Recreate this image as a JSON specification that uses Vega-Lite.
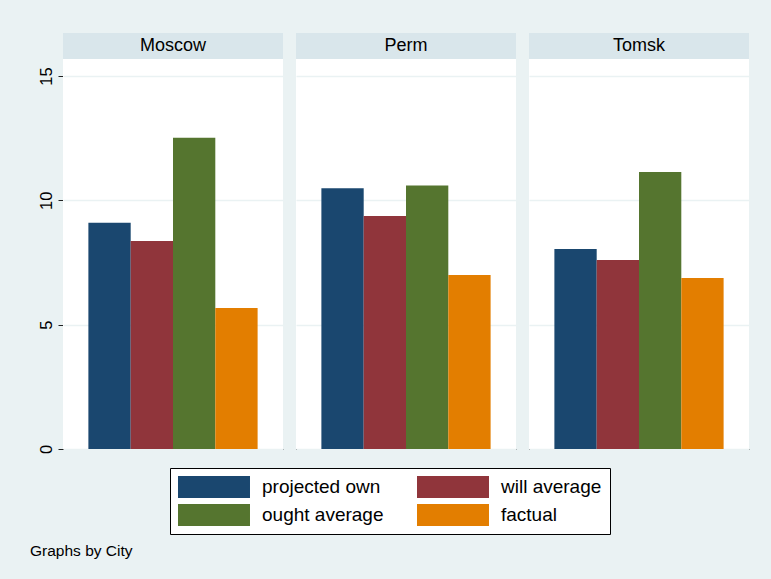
{
  "$schema": "https://vega.github.io/schema/vega-lite/v6.json",
  "background": "#eaf2f3",
  "padding": {"left": 30, "top": 33, "right": 22, "bottom": 21},
  "data": {"values": [
    {"City": "Moscow", "Series": "projected own", "Value": 9.1},
    {"City": "Moscow", "Series": "will average", "Value": 8.36},
    {"City": "Moscow", "Series": "ought average", "Value": 12.52},
    {"City": "Moscow", "Series": "factual", "Value": 5.67},
    {"City": "Perm", "Series": "projected own", "Value": 10.49},
    {"City": "Perm", "Series": "will average", "Value": 9.37},
    {"City": "Perm", "Series": "ought average", "Value": 10.6},
    {"City": "Perm", "Series": "factual", "Value": 7.0},
    {"City": "Tomsk", "Series": "projected own", "Value": 8.04},
    {"City": "Tomsk", "Series": "will average", "Value": 7.6},
    {"City": "Tomsk", "Series": "ought average", "Value": 11.14},
    {"City": "Tomsk", "Series": "factual", "Value": 6.88}
  ]},
  "facet": {
    "column": {
      "field": "City",
      "type": "nominal",
      "sort": ["Moscow", "Perm", "Tomsk"],
      "header": {"title": null, "labels": false}
    }
  },
  "spacing": 13,
  "spec": {
    "width": 220,
    "height": 416,
    "layer": [
      {
        "mark": {"type": "bar"},
        "encoding": {
          "x": {
            "field": "Series",
            "type": "nominal",
            "sort": ["projected own", "will average", "ought average", "factual"],
            "scale": {"paddingInner": 0, "paddingOuter": 0.6},
            "axis": {"labels": false, "ticks": false, "title": null, "domainColor": "black", "domainWidth": 1, "zindex": 1}
          },
          "y": {
            "field": "Value",
            "type": "quantitative",
            "scale": {"domain": [0, 16.73], "nice": false, "zero": true},
            "axis": {"values": [0, 5, 10, 15], "title": null, "grid": true, "gridColor": "#eaf2f3", "gridWidth": 1.5, "labelAngle": 270, "labelFontSize": 16.5, "labelFont": "Liberation Sans", "labelColor": "black", "tickColor": "#222", "tickSize": 5, "domainColor": "#333", "labelPadding": 4, "zindex": 0}
          },
          "color": {
            "field": "Series",
            "type": "nominal",
            "sort": ["projected own", "will average", "ought average", "factual"],
            "scale": {"domain": ["projected own", "will average", "ought average", "factual"], "range": ["#1a476f", "#90353b", "#55752f", "#e37e00"]},
            "legend": {
              "title": null,
              "orient": "none",
              "legendX": 107,
              "legendY": 435,
              "direction": "horizontal",
              "columns": 2,
              "symbolType": "M-1,-1H5.545V1H-1Z",
              "symbolSize": 484,
              "symbolStrokeWidth": 0,
              "labelFontSize": 19,
              "labelFont": "Liberation Sans",
              "labelColor": "black",
              "labelOffset": 62,
              "rowPadding": 6,
              "columnPadding": 33,
              "padding": 8,
              "fillColor": "white",
              "strokeColor": "black"
            }
          }
        }
      },
      {
        "transform": [{"filter": "datum.Series === 'projected own'"}],
        "mark": {"type": "rect", "color": "#d9e6eb"},
        "encoding": {"y": {"datum": 15.68}, "y2": {"datum": 16.73}}
      },
      {
        "transform": [{"filter": "datum.Series === 'projected own'"}],
        "mark": {"type": "text", "fontSize": 18, "font": "Liberation Sans", "color": "black", "baseline": "middle"},
        "encoding": {"y": {"datum": 16.2}, "text": {"field": "City"}}
      }
    ]
  },
  "title": {"text": "Graphs by City", "orient": "bottom", "anchor": "start", "frame": "bounds", "fontSize": 15.5, "fontWeight": "normal", "font": "Liberation Sans", "color": "black", "offset": 9, "dx": -8},
  "config": {
    "view": {"stroke": null, "fill": "white"}
  }
}
